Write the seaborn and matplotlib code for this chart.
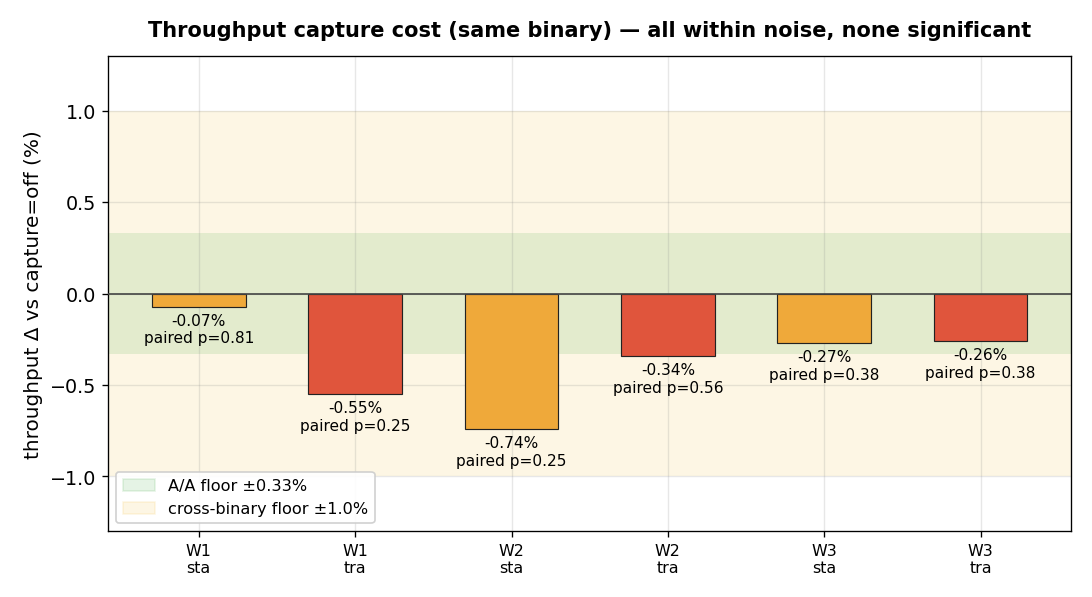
import matplotlib
matplotlib.use("Agg")
import matplotlib.pyplot as plt
import pandas as pd
import seaborn as sns
from matplotlib.patches import Patch

workloads = ["W1", "W1", "W2", "W2", "W3", "W3"]
modes = ["sta", "tra", "sta", "tra", "sta", "tra"]
delta_pct = [-0.07, -0.55, -0.74, -0.34, -0.27, -0.26]
p_values = [0.81, 0.25, 0.25, 0.56, 0.38, 0.38]

aa_floor = 0.33
cross_floor = 1.0

mode_colors = {"sta": "#EFA93A", "tra": "#E0553C"}
bar_width = 0.6

df = pd.DataFrame({
    "label": [f"{w}\n{m}" for w, m in zip(workloads, modes)],
    "mode": modes,
    "delta": delta_pct,
    "p": p_values,
})

plt.rcParams["font.family"] = ["DejaVu Sans"]

fig, ax = plt.subplots(figsize=(9.1, 4.98), dpi=120)

ax.axhspan(-cross_floor, cross_floor, color="#F5C242", alpha=0.14, lw=0, zorder=0)
ax.axhspan(-aa_floor, aa_floor, color="#2CA02C", alpha=0.12, lw=0, zorder=0)

sns.barplot(
    data=df, x="label", y="delta", hue="mode", palette=mode_colors,
    dodge=False, width=bar_width, saturation=1, edgecolor="#222222", linewidth=0.7,
    legend=False, ax=ax, zorder=3,
)
ax.axhline(0, color="#444444", lw=1.0, zorder=4)

for i, row in df.iterrows():
    ax.annotate(
        f"{row['delta']:.2f}%\npaired p={row['p']:.2f}",
        xy=(i, row["delta"]), xytext=(0, -4), textcoords="offset points",
        ha="center", va="top", fontsize=9.25, zorder=5,
    )

# matplotlib-style 5% margin around the bars
n = len(df)
span = (n - 1) + bar_width
ax.set_xlim(-bar_width / 2 - 0.05 * span, n - 1 + bar_width / 2 + 0.05 * span)
ax.set_ylim(-1.3, 1.3)
ax.set_yticks([-1.0, -0.5, 0.0, 0.5, 1.0])
ax.tick_params(axis="y", labelsize=11.5)
ax.tick_params(axis="x", labelsize=9.5)
ax.grid(True, color="#888888", alpha=0.2, lw=0.8)
ax.set_axisbelow(True)
ax.set_xlabel("")
ax.set_ylabel("throughput Δ vs capture=off (%)", fontsize=12)
ax.set_title("Throughput capture cost (same binary) — all within noise, none significant",
             fontsize=12.5, fontweight="bold", pad=12)

handles = [
    Patch(facecolor="#2CA02C", alpha=0.12, edgecolor="#2CA02C", label=f"A/A floor ±{aa_floor}%"),
    Patch(facecolor="#F5C242", alpha=0.14, edgecolor="#F5C242", label=f"cross-binary floor ±{cross_floor}%"),
]
ax.legend(handles=handles, loc="lower left", fontsize=9.7, framealpha=0.9)

fig.subplots_adjust(left=0.099, right=0.981, top=0.905, bottom=0.11)
fig.savefig("out.png", dpi=120)
